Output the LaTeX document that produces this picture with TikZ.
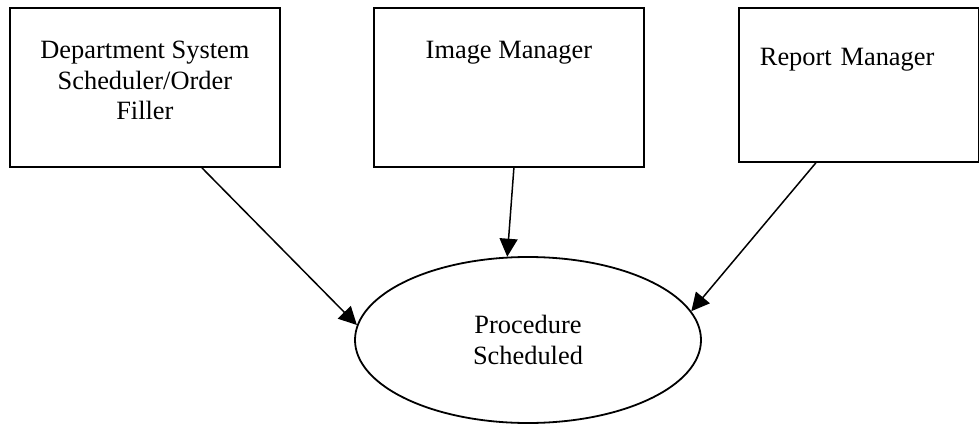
\documentclass[tikz,border=0pt]{standalone}
\usepackage{fontspec}
\setmainfont{Liberation Serif}
\usepackage{tikz}
\usetikzlibrary{shapes.geometric,arrows.meta}

\newcommand{\diagramfont}{\fontsize{26.4}{30.5}\selectfont}

\begin{document}
\begin{tikzpicture}
                    [
                        x=1pt, y=-1pt,
                        rectanglenode_actor/.style={rectangle, draw=black, line width=1.8pt, inner sep=0pt, font=\diagramfont},
                        ellipsenode_event/.style={ellipse, draw=black, line width=1.8pt, inner sep=0pt, minimum width=346pt, minimum height=166pt, font=\diagramfont, align=center},
                        arrow_flow/.style={-{Triangle[length=18pt,width=18pt]}, line width=1.5pt},
                    ]

                    \useasboundingbox (0,0) rectangle (979,425);

                    \node[rectanglenode_actor, anchor=north west, minimum width=270pt, minimum height=159pt, align=center, text depth=14pt] (deptsystem) at (9,7) {Department System\\Scheduler/Order\\Filler};
                    \node[rectanglenode_actor, anchor=north west, minimum width=270pt, minimum height=159pt, text height=18pt, text depth=75pt] (imagemanager) at (373,7) {Image Manager};
                    \node[rectanglenode_actor, anchor=north west, minimum width=240pt, minimum height=154pt, inner xsep=21pt, text width=198pt, align=left, text height=18pt, text depth=56pt] (reportmanager) at (738,7) {Report Manager};

                    \node[ellipsenode_event] (procedure) at (528,340) {Procedure\\Scheduled};

                    \draw[arrow_flow] ([xshift=57pt]deptsystem.south) -- (procedure.175);
                    \draw[arrow_flow] ([xshift=5pt]imagemanager.south) -- (procedure.104);
                    \draw[arrow_flow] ([xshift=-43pt]reportmanager.south) -- (procedure.10);

                \end{tikzpicture}
\end{document}
